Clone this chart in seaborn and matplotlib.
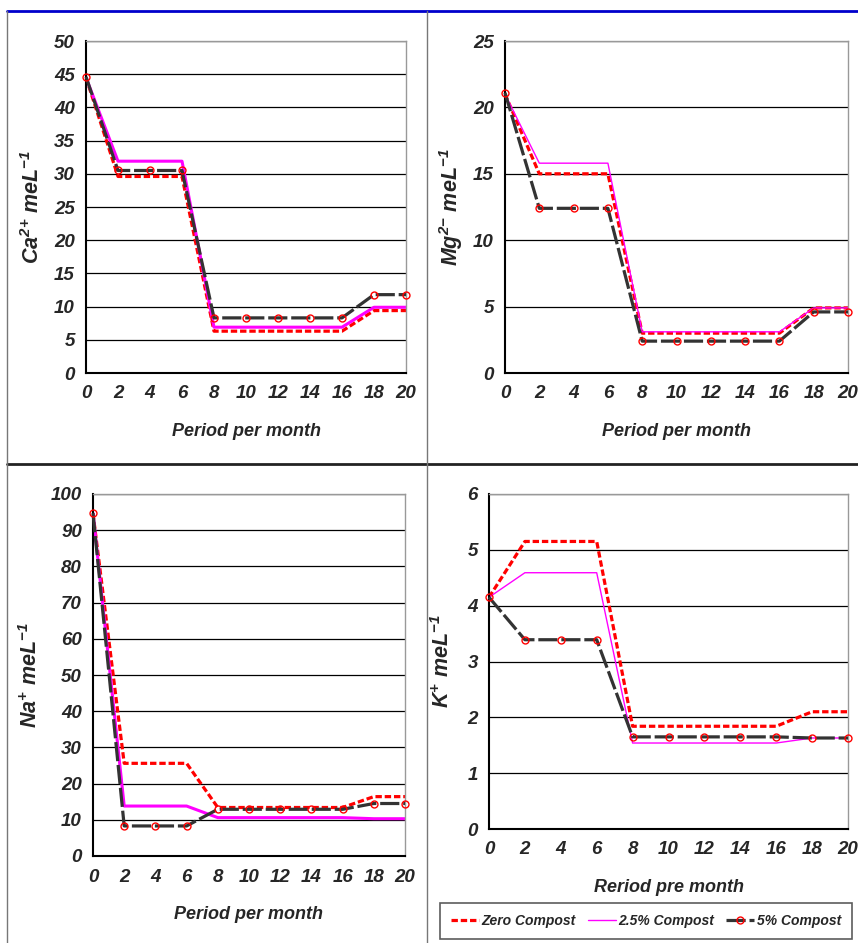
import pandas as pd
import matplotlib
matplotlib.use("Agg")
import matplotlib.pyplot as plt
from matplotlib.lines import Line2D
from matplotlib.ticker import MultipleLocator
import seaborn as sns

# Data
months = [0, 2, 4, 6, 8, 10, 12, 14, 16, 18, 20]

ca_zero = [44.5, 29.6, 29.6, 29.6, 6.3, 6.3, 6.3, 6.3, 6.3, 9.4, 9.4]
ca_25 = [44.5, 31.9, 31.9, 31.9, 6.9, 6.9, 6.9, 6.9, 6.9, 9.9, 9.9]
ca_5 = [44.6, 30.5, 30.5, 30.5, 8.3, 8.3, 8.3, 8.3, 8.3, 11.8, 11.8]

mg_zero = [21.0, 15.0, 15.0, 15.0, 3.0, 3.0, 3.0, 3.0, 3.0, 4.9, 4.9]
mg_25 = [21.0, 15.8, 15.8, 15.8, 3.1, 3.1, 3.1, 3.1, 3.1, 4.9, 4.9]
mg_5 = [21.1, 12.4, 12.4, 12.4, 2.4, 2.4, 2.4, 2.4, 2.4, 4.6, 4.6]

na_zero = [94.7, 25.6, 25.6, 25.6, 13.4, 13.4, 13.4, 13.4, 13.4, 16.4, 16.4]
na_25 = [94.7, 13.8, 13.8, 13.8, 10.6, 10.6, 10.6, 10.6, 10.6, 10.3, 10.3]
na_5 = [94.7, 8.3, 8.3, 8.3, 12.9, 12.9, 12.9, 12.9, 12.9, 14.5, 14.5]

k_zero = [4.15, 5.15, 5.15, 5.15, 1.84, 1.84, 1.84, 1.84, 1.84, 2.1, 2.1]
k_25 = [4.15, 4.59, 4.59, 4.59, 1.54, 1.54, 1.54, 1.54, 1.54, 1.63, 1.63]
k_5 = [4.15, 3.39, 3.39, 3.39, 1.65, 1.65, 1.65, 1.65, 1.65, 1.63, 1.63]

labels = ["Zero Compost", "2.5% Compost", "5% Compost"]

# Plot config
sns.set_style("white")
plt.rcParams["font.family"] = ["Liberation Sans", "DejaVu Sans"]
plt.rcParams["mathtext.default"] = "regular"

fig = plt.figure(figsize=(8.58, 9.43), dpi=100)

# frame lines like the original document table
fig.add_artist(Line2D([7/858, 1], [1-11/943, 1-11/943], color="#0000cc", lw=2))
fig.add_artist(Line2D([7/858, 1], [1-464/943, 1-464/943], color="#222222", lw=2))
fig.add_artist(Line2D([427/858, 427/858], [0, 1-11/943], color="#777777", lw=1))
fig.add_artist(Line2D([7/858, 7/858], [0, 1-11/943], color="#777777", lw=1))

panels = [
    # values, axes rect, ylim, major, minor, ylabel, xlabel, magenta width, ylabel pad
    ((ca_zero, ca_25, ca_5), [86/858, 1-373/943, 320/858, 332/943], 50, 5, 1,
     r"Ca$^{2{+}}$ meL$^{-1}$", "Period per month", 2.2, 7),
    ((mg_zero, mg_25, mg_5), [505/858, 1-373/943, 343/858, 332/943], 25, 5, 1,
     r"Mg$^{2{-}}$ meL$^{-1}$", "Period per month", 1.0, 6),
    ((na_zero, na_25, na_5), [93/858, 1-856/943, 312/858, 362/943], 100, 10, 2,
     r"Na$^{+}$ meL$^{-1}$", "Period per month", 2.2, 6),
    ((k_zero, k_25, k_5), [489/858, 1-829/943, 359/858, 335/943], 6, 1, 0.2,
     r"K$^{+}$ meL$^{-1}$", "Reriod pre month", 1.0, 10),
]

font_kw = dict(fontweight="bold", fontstyle="italic")

for values, rect, ymax, major, minor, ylab, xlab, mw, ypad in panels:
    ax = fig.add_axes(rect)
    df = pd.DataFrame({"month": months, "zero": values[0],
                       "c25": values[1], "c5": values[2]})
    ax.yaxis.grid(True, color="black", lw=0.9)
    ax.set_axisbelow(True)
    sns.lineplot(data=df, x="month", y="zero", ax=ax, color="red", lw=2.3,
                 linestyle=(0, (2.0, 0.9)), legend=False, label=labels[0])
    sns.lineplot(data=df, x="month", y="c25", ax=ax, color="#ff00ff", lw=mw,
                 legend=False, label=labels[1])
    sns.lineplot(data=df, x="month", y="c5", ax=ax, color="#333333", lw=2.3,
                 linestyle=(0, (6.0, 1.2)), marker="o", ms=5, mfc="none",
                 mec="red", mew=1.0, legend=False, label=labels[2],
                 clip_on=False, zorder=3)
    ax.set_xlim(0, 20)
    ax.set_ylim(0, ymax)
    ax.xaxis.set_major_locator(MultipleLocator(2))
    ax.xaxis.set_minor_locator(MultipleLocator(1))
    ax.yaxis.set_major_locator(MultipleLocator(major))
    ax.yaxis.set_minor_locator(MultipleLocator(minor))
    ax.tick_params(which="both", direction="in", color="black", width=1)
    ax.tick_params(axis="x", which="both", length=5, pad=9, labelsize=13.5)
    ax.tick_params(axis="y", which="major", length=0, pad=8, labelsize=13.5)
    ax.tick_params(axis="y", which="minor", length=3)
    for t in ax.get_xticklabels() + ax.get_yticklabels():
        t.set_fontweight("bold")
        t.set_fontstyle("italic")
    for s in ["left", "bottom"]:
        ax.spines[s].set_color("black")
        ax.spines[s].set_linewidth(1.5)
    for s in ["top", "right"]:
        ax.spines[s].set_color("#999999")
        ax.spines[s].set_linewidth(1.0)
    ax.set_ylabel(ylab, fontsize=15.5, labelpad=ypad, **font_kw)
    ax.set_xlabel(xlab, fontsize=13, labelpad=15, **font_kw)

handles, labs = ax.get_legend_handles_labels()
leg = fig.legend(handles, labs, loc="lower left", ncol=3, mode="expand",
                 bbox_to_anchor=(440/858, 4/943, 412/858, 36/943),
                 frameon=True, fancybox=False, edgecolor="#333333",
                 handlelength=2.0, handletextpad=0.2, borderaxespad=0,
                 borderpad=0.8, prop=dict(size=10, weight="bold", style="italic"))
leg.get_frame().set_linewidth(1.2)

fig.savefig("out.png", dpi=100)
